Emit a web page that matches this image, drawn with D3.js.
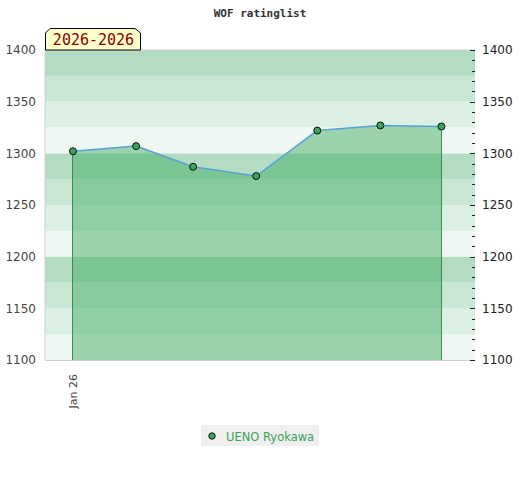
<!DOCTYPE html>
<html><head><meta charset="utf-8">
<script src="https://cdn.jsdelivr.net/npm/d3@7"></script>
<style>body{margin:0;background:#fff}</style>
</head><body>
<svg id="c" width="520" height="480"></svg>
<script>
const dates = ["2026-01-01","2026-02-01","2026-03-01","2026-04-01","2026-05-01","2026-06-01","2026-07-01"];
const ratings = [1302, 1307, 1287, 1278, 1322, 1327, 1326];
const yTicks = [1100, 1150, 1200, 1250, 1300, 1350, 1400];
const xTickLabels = ["Jan 26"];
const playerName = "UENO Ryokawa";
const periodLabel = "2026-2026";
const chartTitle = "WOF ratinglist";
const bandColors = ["#b3dcc3", "#c9e6d5", "#dcefe4", "#eff7f2"];

const parse = d3.utcParse("%Y-%m-%d");
const pts = dates.map((d, i) => ({ date: parse(d), v: ratings[i] }));

const svg = d3.select("#c");
const L = 45, R = 475, T = 50, B = 360;
const x = d3.scaleUtc()
  .domain([parse("2025-12-18"), parse("2026-07-17")])
  .range([L - 0.5, R - 1]);
const y = d3.scaleLinear().domain([1100, 1400]).range([B, T]);

// title
svg.append("text").attr("x", 260).attr("y", 17).attr("text-anchor", "middle")
  .attr("font-family", "DejaVu Sans Mono").attr("font-weight", "bold")
  .attr("font-size", 11).attr("fill", "#333").text(chartTitle);

// bands
const bands = d3.range(1100, 1400, 25);
svg.append("g").selectAll("rect").data(bands).join("rect")
  .attr("x", L).attr("width", R - L)
  .attr("y", d => y(d + 25)).attr("height", d => y(d) - y(d + 25))
  .attr("fill", d => bandColors[3 - ((d - 1100) / 25) % 4]);

// plot border
svg.append("path").attr("d", `M${L},${B}V${T}H${R}`).attr("fill", "none")
  .attr("stroke", "#d0d0d0").attr("stroke-width", 1);
svg.append("line").attr("x1", L).attr("x2", R).attr("y1", B + 0.5).attr("y2", B + 0.5)
  .attr("stroke", "#d0d0d0");

// area
const area = d3.area().x(d => x(d.date)).y0(y(1100)).y1(d => y(d.v));
svg.append("path").datum(pts).attr("d", area)
  .attr("fill", "rgb(59,170,94)").attr("fill-opacity", 0.47);

// vertical edges
const ends = [pts[0], pts[pts.length - 1]];
svg.append("g").selectAll("line").data(ends).join("line")
  .attr("x1", d => Math.floor(x(d.date)) + 0.5).attr("x2", d => Math.floor(x(d.date)) + 0.5)
  .attr("y1", d => y(d.v)).attr("y2", y(1100))
  .attr("stroke", "#3a8f55").attr("stroke-width", 1);

// line
const line = d3.line().x(d => x(d.date)).y(d => y(d.v));
svg.append("path").datum(pts).attr("d", line).attr("fill", "none")
  .attr("stroke", "#5aa0d8").attr("stroke-width", 1.5);

// points
svg.append("g").selectAll("circle").data(pts).join("circle")
  .attr("cx", d => x(d.date)).attr("cy", d => y(d.v)).attr("r", 3.5)
  .attr("fill", "#3aa35a").attr("stroke", "#111").attr("stroke-width", 1);

// left axis labels
const leftAxis = d3.axisLeft(y).tickValues(yTicks).tickFormat(d3.format("d")).tickSize(0).tickPadding(9);
const gl = svg.append("g").attr("transform", `translate(${L},0)`).call(leftAxis);
gl.select(".domain").remove();
gl.selectAll("text").attr("font-family", "DejaVu Sans").attr("font-size", 12).attr("fill", "#444");

// right axis: minor ticks + labels
const minor = d3.range(1100, 1401, 10);
const gr = svg.append("g");
gr.selectAll("line").data(minor).join("line")
  .attr("x1", d => R - (d % 50 === 0 ? 5 : 3)).attr("x2", R)
  .attr("y1", d => Math.round(y(d)) + 0.5).attr("y2", d => Math.round(y(d)) + 0.5)
  .attr("stroke", "#222");
const rightAxis = d3.axisRight(y).tickValues(yTicks).tickFormat(d3.format("d")).tickSize(0).tickPadding(7);
const grl = svg.append("g").attr("transform", `translate(${R},0)`).call(rightAxis);
grl.select(".domain").remove();
grl.selectAll("text").attr("font-family", "DejaVu Sans").attr("font-size", 12).attr("fill", "#222");

// x axis label
const xTickDates = [pts[0].date];
const gx = svg.append("g");
gx.selectAll("text").data(xTickDates).join("text")
  .attr("transform", d => `translate(${x(d) + 4},${B + 14}) rotate(-90)`)
  .attr("text-anchor", "end")
  .attr("font-family", "DejaVu Sans").attr("font-size", 11).attr("fill", "#444")
  .text((d, i) => xTickLabels[i]);

// period label box
const bx = 45, by = 28, bw = 95, bh = 22, c = 5;
svg.append("path")
  .attr("d", `M${bx + 0.5},${by + bh}V${by + c}L${bx + c},${by + 0.5}H${bx + bw - c}L${bx + bw + 0.5},${by + c}V${by + bh}Z`)
  .attr("fill", "#ffffcc").attr("stroke", "#000").attr("stroke-width", 1);
svg.append("text").attr("x", bx + bw / 2 + 1).attr("y", by + 17).attr("text-anchor", "middle")
  .attr("font-family", "DejaVu Sans Mono").attr("font-size", 15).attr("fill", "#8b0000")
  .text(periodLabel);

// legend
const lg = svg.append("g");
lg.append("rect").attr("x", 201).attr("y", 425).attr("width", 118).attr("height", 21).attr("fill", "#efefef");
lg.append("circle").attr("cx", 212).attr("cy", 436).attr("r", 3.2)
  .attr("fill", "#3aa35a").attr("stroke", "#111");
lg.append("text").attr("x", 226).attr("y", 440.5).attr("font-family", "DejaVu Sans")
  .attr("font-size", 11.5).attr("fill", "#3aa35a").text(playerName);
</script>
</body></html>
